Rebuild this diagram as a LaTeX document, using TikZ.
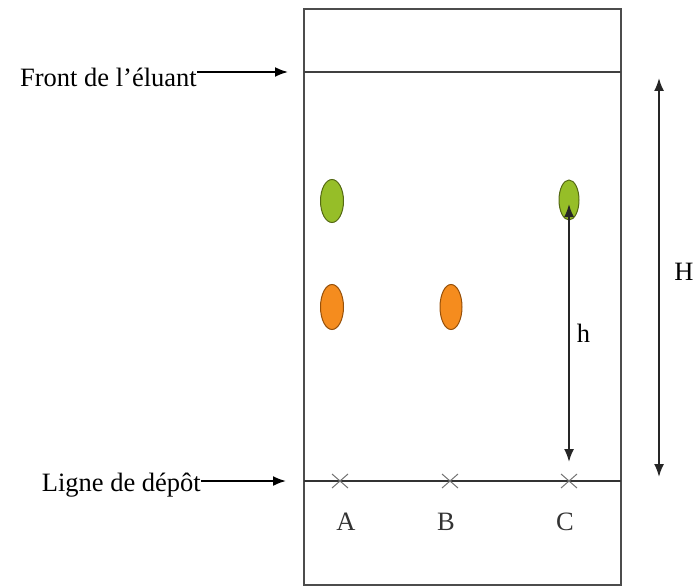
\documentclass[tikz,border=0pt]{standalone}
\usepackage{fontspec}
\setmainfont{Liberation Serif}
\usetikzlibrary{arrows.meta,positioning,shapes.geometric}
\definecolor{spotgreen}{RGB}{150,190,40}
\definecolor{spotgreenedge}{RGB}{85,105,20}
\definecolor{spotorange}{RGB}{245,140,30}
\definecolor{spotorangeedge}{RGB}{150,80,10}
\begin{document}
\begin{tikzpicture}[x=1pt,y=-1pt,
  lbl/.style={font=\fontsize{26.5}{30}\selectfont, inner sep=0pt},
  arr/.style={-{Latex[length=13pt,width=10pt]}, line width=1.8pt},
  dimarr/.style={{Latex[length=13pt,width=10pt]}-{Latex[length=13pt,width=10pt]}, line width=1.8pt},
  spotG/.style={ellipse, draw=spotgreenedge, fill=spotgreen, line width=1pt, inner sep=0pt},
  spotO/.style={ellipse, draw=spotorangeedge, fill=spotorange, line width=1pt, inner sep=0pt}]
\useasboundingbox (0,0) rectangle (693,588);
% plate
\draw[line width=2pt, black!70] (304,9) rectangle (621,585);
\draw[line width=2pt, black!75] (304,72) coordinate (fL) -- (621,72) coordinate (fR);
\draw[line width=2pt, black!80] (304,481) coordinate (dL) -- (621,481) coordinate (dR);
% labels with arrows
\node[lbl, anchor=east] (front) at (197,77) {Front de l'éluant};
\coordinate (fa) at (288,72);
\draw[arr] (front.east |- fa) -- (fa);
\node[lbl, anchor=east] (depot) at (201,485) {Ligne de dépôt};
\coordinate (da) at (286,481);
\draw[arr] (depot.east |- da) -- (da);
% deposit marks
\foreach \n/\x/\t in {A/340/346, B/450/446, C/569/565} {
  \coordinate (d\n) at (\x,481);
  \draw[black!55, line width=1pt] (\x-8,474) -- (\x+8,488) (\x-8,488) -- (\x+8,474);
  \node[lbl, text=black!80] (l\n) at (\t,522) {\n};
}
% spots
\node[spotG, minimum width=23, minimum height=43] (gA) at (332,201) {};
\node[spotG, minimum width=20, minimum height=40] (gC) at (569,200) {};
\node[spotO, minimum width=23, minimum height=45] (oA) at (332,307) {};
\node[spotO, minimum width=22, minimum height=45] (oB) at (451,307) {};
% distances
\draw[dimarr, black!85] ([yshift=-4pt]gC.center) -- ([yshift=19pt]dC) node[pos=0.5, right=7pt, lbl, text=black] (h) {h};
\coordinate (Ht) at (659,78);
\coordinate (Hb) at (659,477);
\draw[dimarr, black!85] (Ht) -- (Hb);
\node[lbl] (H) at (684,272) {H};
\end{tikzpicture}
\end{document}
